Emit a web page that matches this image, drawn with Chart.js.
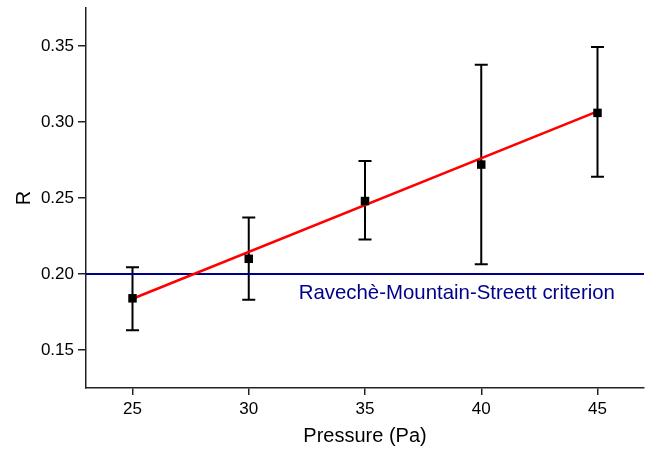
<!DOCTYPE html>
<html lang="en">
<head>
    <meta charset="UTF-8">
    <title>R vs Pressure</title>
    <script src="https://cdn.jsdelivr.net/npm/chart.js"></script>
    <style>
        body { margin: 0; background: #fff; }
    </style>
</head>
<body>
    <canvas id="chart" width="659" height="452"></canvas>

    <script>
        // Measured data
        const pressure = [25, 30, 35, 40, 45];
        const rValues = [0.184, 0.210, 0.248, 0.272, 0.306];
        const rUpper = [0.2045, 0.2372, 0.2744, 0.3376, 0.3493];
        const rLower = [0.1630, 0.1831, 0.2227, 0.2064, 0.2640];

        // Linear fit end points
        const fitX = [25, 45];
        const fitY = [0.1837, 0.3070];

        // Criterion line
        const criterionValue = 0.20;
        const criterionLabel = 'Ravechè-Mountain-Streett criterion';
        const criterionLabelAt = [32.15, 0.1875];

        const xTicks = [25, 30, 35, 40, 45];
        const yTicks = [0.15, 0.20, 0.25, 0.30, 0.35];

        const FONT = '"Liberation Sans", Arial, sans-serif';

        // error bars drawn through the scales
        const errorBars = {
            id: 'errorBars',
            beforeDatasetsDraw(chart) {
                const { ctx, scales: { x, y } } = chart;
                ctx.save();
                ctx.strokeStyle = '#000';
                ctx.lineWidth = 2;
                pressure.forEach((p, i) => {
                    const px = x.getPixelForValue(p);
                    const top = y.getPixelForValue(rUpper[i]);
                    const bot = y.getPixelForValue(rLower[i]);
                    ctx.beginPath();
                    ctx.moveTo(px, top);
                    ctx.lineTo(px, bot);
                    ctx.moveTo(px - 6.5, top);
                    ctx.lineTo(px + 6.5, top);
                    ctx.moveTo(px - 6.5, bot);
                    ctx.lineTo(px + 6.5, bot);
                    ctx.stroke();
                });
                ctx.restore();
            },
            afterDatasetsDraw(chart) {
                const { ctx, scales: { x, y } } = chart;
                ctx.save();
                ctx.fillStyle = '#00008b';
                ctx.font = '20.4px ' + FONT;
                ctx.textAlign = 'left';
                ctx.textBaseline = 'middle';
                ctx.fillText(criterionLabel, x.getPixelForValue(criterionLabelAt[0]), y.getPixelForValue(criterionLabelAt[1]));
                ctx.restore();
            }
        };

        new Chart(document.getElementById('chart'), {
            type: 'scatter',
            data: {
                datasets: [
                    {
                        label: 'criterion',
                        data: [{ x: 23, y: criterionValue }, { x: 47, y: criterionValue }],
                        showLine: true,
                        borderColor: '#00008b',
                        borderWidth: 2,
                        pointRadius: 0,
                        order: 3
                    },
                    {
                        label: 'fit',
                        data: fitX.map((v, i) => ({ x: v, y: fitY[i] })),
                        showLine: true,
                        borderColor: '#ff0000',
                        borderWidth: 2.5,
                        pointRadius: 0,
                        order: 2
                    },
                    {
                        label: 'R',
                        data: pressure.map((p, i) => ({ x: p, y: rValues[i] })),
                        pointStyle: 'rect',
                        pointRadius: 6,
                        backgroundColor: '#000',
                        borderColor: '#000',
                        borderWidth: 0,
                        order: 1
                    }
                ]
            },
            options: {
                responsive: false,
                animation: false,
                layout: { padding: { top: 8, right: 15, left: 0, bottom: 0 } },
                plugins: {
                    legend: { display: false },
                    tooltip: { enabled: false }
                },
                scales: {
                    x: {
                        type: 'linear',
                        min: 23,
                        max: 47,
                        afterBuildTicks(scale) { scale.ticks = xTicks.map(v => ({ value: v })); },
                        afterFit(scale) { scale.height = 64; scale.paddingLeft = 0; scale.paddingRight = 0; },
                        grid: { display: true, drawOnChartArea: false, drawTicks: true, tickLength: 7, color: '#222', lineWidth: 1.5 },
                        border: { display: true, color: '#222', width: 1.5 },
                        ticks: { color: '#000', font: { family: FONT, size: 17 }, padding: 4, maxRotation: 0 },
                        title: { display: true, text: 'Pressure (Pa)', color: '#000', font: { family: FONT, size: 20 }, padding: { top: 2, bottom: 4 } }
                    },
                    y: {
                        min: 0.125,
                        max: 0.375,
                        afterBuildTicks(scale) { scale.ticks = yTicks.map(v => ({ value: v })); },
                        afterFit(scale) { scale.width = 86; scale.paddingTop = 0; scale.paddingBottom = 0; },
                        grid: { display: true, drawOnChartArea: false, drawTicks: true, tickLength: 8, color: '#222', lineWidth: 1.5 },
                        border: { display: true, color: '#222', width: 1.5 },
                        ticks: { color: '#000', font: { family: FONT, size: 17 }, padding: 4, callback: v => v.toFixed(2) },
                        title: { display: true, text: 'R', color: '#000', font: { family: FONT, size: 20 }, padding: { top: 12, bottom: 4 } }
                    }
                }
            },
            plugins: [errorBars]
        });
    </script>
</body>
</html>
